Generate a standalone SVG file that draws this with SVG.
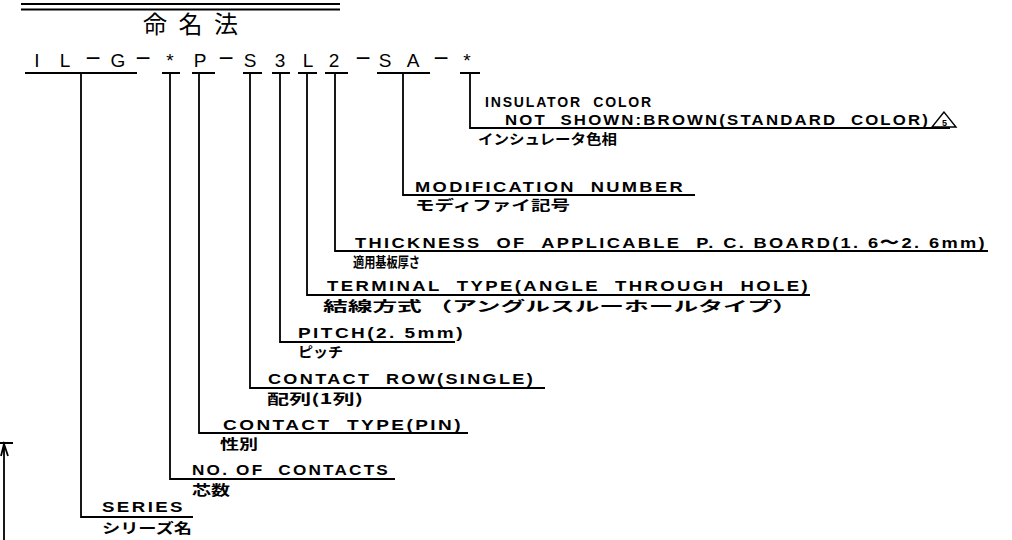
<svg xmlns="http://www.w3.org/2000/svg" width="1012" height="540" viewBox="0 0 1012 540">
<style>
.code{font-family:"Liberation Sans",Arial,sans-serif;font-size:19px;fill:#000;text-anchor:middle}
.dash{font-size:26px}
.en{font-family:"Liberation Sans",Arial,sans-serif;font-size:15.5px;font-weight:bold;fill:#000;letter-spacing:2px}
.jp{font-family:"Noto Sans CJK JP","Noto Sans",sans-serif;font-size:14px;font-weight:bold;fill:#000}
.title{font-family:"Noto Sans CJK JP",sans-serif;font-size:24px;fill:#000}
.ln{stroke:#000;stroke-width:1.8;fill:none}
</style>
<rect width="1012" height="540" fill="#fff"/>
<g id="header">
<line class="ln" x1="21" y1="4" x2="340" y2="4" stroke-width="2.4"/>
<line class="ln" x1="21" y1="9.5" x2="340" y2="9.5"/>
<text class="title" x="143" y="33" textLength="95" lengthAdjust="spacing">命名法</text>
</g>
<g id="code">
<text class="code" x="37 65 93 118 143 170 200 226 250 280 308 334 363 385 413 441 467" y="67">IL<tspan class="dash">−</tspan>G<tspan class="dash">−</tspan>*P<tspan class="dash">−</tspan>S3L2<tspan class="dash">−</tspan>SA<tspan class="dash">−</tspan>*</text>
</g>
<g id="connectors">
<path class="ln" d="M25 73H137M162 73H180M192 73H215M243 73H262M272 73H290M298 73H317M325 73H348M377 73H430M460 73H480"/>
<path class="ln" d="M470 73V128H950"/>
<path class="ln" d="M403 73V195H695"/>
<path class="ln" d="M335 73V251H988"/>
<path class="ln" d="M307 73V295H810"/>
<path class="ln" d="M280 73V342H455"/>
<path class="ln" d="M250 73V388H545"/>
<path class="ln" d="M199 73V433H468"/>
<path class="ln" d="M170 73V479H395"/>
<path class="ln" d="M81 73V517H193"/>
</g>
<g id="insulator">
<text class="en" x="485" y="107" textLength="168" lengthAdjust="spacingAndGlyphs">INSULATOR&#160;&#160;COLOR</text>
<text class="en" x="505" y="125" textLength="425" lengthAdjust="spacingAndGlyphs">NOT&#160;&#160;SHOWN:BROWN(STANDARD&#160;&#160;COLOR)</text>
<polygon points="944,112 932,127 956,127" fill="none" stroke="#000" stroke-width="1.4"/>
<text x="944.5" y="125.5" font-family="Liberation Sans,sans-serif" font-size="9" font-weight="bold" text-anchor="middle">5</text>
<text class="jp" x="478" y="144" textLength="139" lengthAdjust="spacingAndGlyphs">インシュレータ色相</text>
</g>
<g id="modification">
<text class="en" x="415" y="192" textLength="270" lengthAdjust="spacingAndGlyphs">MODIFICATION&#160;&#160;NUMBER</text>
<text class="jp" x="415" y="210" textLength="155" lengthAdjust="spacingAndGlyphs">モディファイ記号</text>
</g>
<g id="thickness">
<text class="en" x="355" y="248" textLength="632" lengthAdjust="spacingAndGlyphs">THICKNESS&#160;&#160;OF&#160;&#160;APPLICABLE&#160;&#160;P. C. BOARD(1. 6〜2. 6mm)</text>
<text class="jp" x="353" y="267" textLength="67" lengthAdjust="spacingAndGlyphs">適用基板厚さ</text>
</g>
<g id="terminal">
<text class="en" x="327" y="291" textLength="483" lengthAdjust="spacingAndGlyphs">TERMINAL&#160;&#160;TYPE(ANGLE&#160;&#160;THROUGH&#160;&#160;HOLE)</text>
<text class="jp" x="323" y="311" textLength="474" lengthAdjust="spacingAndGlyphs">結線方式 （アングルスルーホールタイプ）</text>
</g>
<g id="pitch">
<text class="en" x="298" y="338" textLength="167" lengthAdjust="spacingAndGlyphs">PITCH(2. 5mm)</text>
<text class="jp" x="298" y="357" textLength="45" lengthAdjust="spacingAndGlyphs">ピッチ</text>
</g>
<g id="row">
<text class="en" x="268" y="384" textLength="267" lengthAdjust="spacingAndGlyphs">CONTACT&#160;&#160;ROW(SINGLE)</text>
<text class="jp" x="267" y="404" textLength="96" lengthAdjust="spacingAndGlyphs">配列(1列)</text>
</g>
<g id="type">
<text class="en" x="223" y="430" textLength="240" lengthAdjust="spacingAndGlyphs">CONTACT&#160;&#160;TYPE(PIN)</text>
<text class="jp" x="220" y="449" textLength="38" lengthAdjust="spacingAndGlyphs">性別</text>
</g>
<g id="contacts">
<text class="en" x="192" y="475" textLength="198" lengthAdjust="spacingAndGlyphs">NO. OF&#160;&#160;CONTACTS</text>
<text class="jp" x="192" y="495" textLength="38" lengthAdjust="spacingAndGlyphs">芯数</text>
</g>
<g id="series">
<text class="en" x="102" y="512" textLength="83" lengthAdjust="spacingAndGlyphs">SERIES</text>
<text class="jp" x="102" y="533" textLength="90" lengthAdjust="spacingAndGlyphs">シリーズ名</text>
</g>
<g id="arrow">
<path class="ln" d="M0 443H13M4 443V540M1 456L4 444L8 456"/>
</g>
</svg>
